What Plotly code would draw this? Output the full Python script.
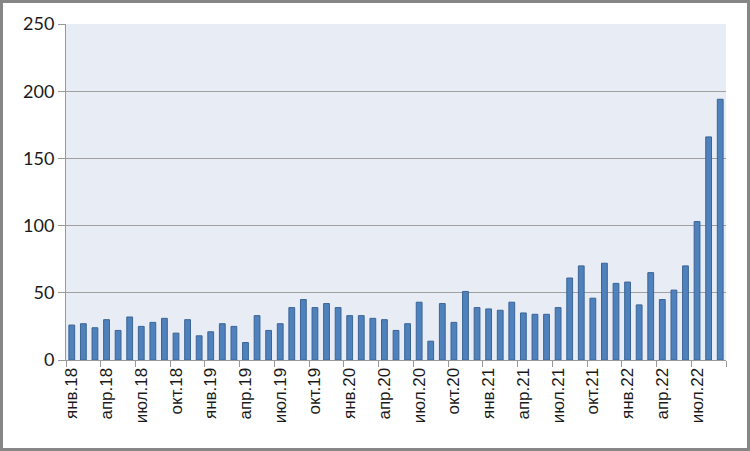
import plotly.graph_objects as go

months = ["янв", "фев", "мар", "апр", "май", "июн", "июл", "авг", "сен", "окт", "ноя", "дек"]
years = ["18", "19", "20", "21", "22"]
categories = [f"{m}.{y}" for y in years for m in months][:57]

values = [26, 27, 24, 30, 22, 32, 25, 28, 31, 20, 30, 18,
          21, 27, 25, 13, 33, 22, 27, 39, 45, 39, 42, 39,
          33, 33, 31, 30, 22, 27, 43, 14, 42, 28, 51, 39,
          38, 37, 43, 35, 34, 34, 39, 61, 70, 46, 72, 57,
          58, 41, 65, 45, 52, 70, 103, 166, 194]

label_step = 3
positions = list(range(len(categories)))
tick_pos = positions[::label_step]
tick_text = categories[::label_step]
boundaries = [p - 0.5 for p in tick_pos] + [len(categories) - 0.5]

ML, MR, MT, MB = 66, 24, 24, 91
W, H = 750, 451
pw, ph = W - ML - MR, H - MT - MB

fig = go.Figure()
fig.add_trace(go.Bar(
    x=positions, y=values, width=0.5,
    marker=dict(color="#4F81BD", line=dict(color="#3A6595", width=1)),
    hoverinfo="y",
))
fig.add_trace(go.Scatter(x=[positions[0]], y=[0], xaxis="x2", mode="markers",
                         marker=dict(opacity=0), showlegend=False, hoverinfo="skip"))

rng = [-0.5, len(categories) - 0.5]
fig.update_layout(
    width=W, height=H,
    margin=dict(l=ML, r=MR, t=MT, b=MB),
    paper_bgcolor="white",
    plot_bgcolor="#E8ECF4",
    showlegend=False,
    xaxis=dict(
        range=rng, tickmode="array", tickvals=tick_pos, ticktext=tick_text,
        tickangle=-90, ticks="", showgrid=False, zeroline=False,
        showline=True, linecolor="#999999", linewidth=1,
        tickfont=dict(family="Liberation Sans, Arial", size=17, color="#1a1a1a"),
    ),
    xaxis2=dict(
        overlaying="x", range=rng, tickmode="array", tickvals=boundaries,
        ticks="outside", ticklen=6, tickcolor="#999999", showticklabels=False,
        showgrid=False, zeroline=False, side="bottom",
    ),
    yaxis=dict(
        range=[0, 250], dtick=50, tick0=0,
        showgrid=True, gridcolor="#A0A0A0", gridwidth=1,
        zeroline=False, showline=True, linecolor="#999999", linewidth=1,
        ticks="outside", ticklen=7, tickcolor="#999999",
        tickfont=dict(family="Lato, Carlito, Calibri", size=18, color="#1a1a1a"),
    ),
    shapes=[dict(
        type="rect", xref="paper", yref="paper",
        x0=-(ML - 1.5) / pw, x1=1 + (MR - 1.5) / pw,
        y0=-(MB - 1.5) / ph, y1=1 + (MT - 1.5) / ph,
        line=dict(color="#868686", width=3), layer="above",
    )],
)

fig.write_html("out.html")
